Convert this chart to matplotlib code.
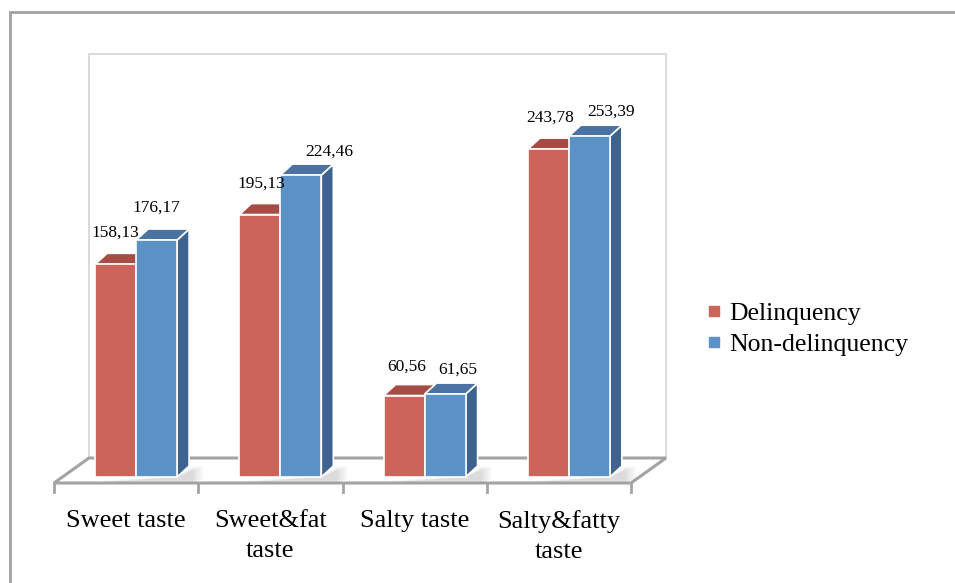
import numpy as np
import matplotlib.pyplot as plt
from matplotlib.patches import Polygon, Rectangle
from matplotlib.lines import Line2D

plt.rcParams['font.family'] = ['Liberation Serif', 'DejaVu Serif']

#%% data
categories = ['Sweet taste', 'Sweet&fat\ntaste', 'Salty taste', 'Salty&fatty\ntaste']
series_names = ['Delinquency', 'Non-delinquency']
delinquency = [158.13, 195.13, 60.56, 243.78]
non_delinquency = [176.17, 224.46, 61.65, 253.39]

# per-label nudges (pixels) from the top of the column front
lab_dx = [[0, 1, 3, 2], [0, 28, 13, 22]]
lab_dy = [[32, 31, 29, 31], [32, 23, 24, 25]]

# front, top, side
red = ('#CB6459', '#A64C45', '#9C4640')
blue = ('#5B93C9', '#4A72A2', '#3F6391')

#%% figure
W, H, DPI = 955, 583, 100
fig = plt.figure(figsize=(W / DPI, H / DPI), dpi=DPI)

# axes = front plane of the columns (pixel box)
ax_l, ax_r, ax_b, ax_t = 64, 641, 477, 73.5
ax = fig.add_axes([ax_l / W, 1 - ax_b / H, (ax_r - ax_l) / W, (ax_b - ax_t) / H])
ymax = 300.0
ax.set_xlim(-0.5, 3.5)
ax.set_ylim(0, ymax)
ax.axis('off')

px_x = (ax_r - ax_l) / 4.0
px_y = (ax_b - ax_t) / ymax

def off(dx, dy):
    return dx / px_x, dy / px_y

fdx, fdy = off(-10, -6)    # floor front edge
bdx, bdy = off(25, 19)     # floor back edge / wall
ddx, ddy = off(12, 11)     # column depth

# outer chart frame
fig.patches.append(Rectangle((10 / W, -0.2), 1.2, 1 - 12 / H + 0.2, transform=fig.transFigure,
                             fill=False, edgecolor='#A0A0A0', lw=2))

# back wall
x0, x1 = -0.5, 3.5
ax.plot([x0 + bdx, x0 + bdx, x1 + bdx, x1 + bdx], [bdy, ymax + bdy, ymax + bdy, bdy],
        color='#D4D4D4', lw=1.2, clip_on=False, zorder=1)

# floor
floor = [(x0 + fdx, fdy), (x1 + fdx, fdy), (x1 + bdx, bdy), (x0 + bdx, bdy)]
ax.add_patch(Polygon(floor, closed=True, facecolor='white', edgecolor='#A3A3A3',
                     lw=2.2, clip_on=False, zorder=2))
# tick marks under the floor
sx, sy = off(0, -9)
for t in np.arange(-0.5, 4.0, 1.0):
    ax.plot([t + fdx, t + fdx], [fdy, fdy + sy], color='#A3A3A3', lw=2, clip_on=False, zorder=2)

w = 0.284
x = np.arange(len(categories))

# soft shadows on the floor
for k, a in enumerate([0.05, 0.05, 0.06, 0.07]):
    gx, gy = off(14 - 3 * k, 4 + k)
    for xi in x:
        sh = [(xi - w + off(4, 0)[0], -gy * 0.8), (xi + w + ddx + gx, -gy * 0.8),
              (xi + w + ddx + gx, ddy), (xi + w, 0)]
        ax.add_patch(Polygon(sh, closed=True, facecolor='#606060', edgecolor='none',
                             alpha=a, clip_on=False, zorder=3))

# columns
for xi in x:
    for s, (vals, col) in enumerate([(delinquency, red), (non_delinquency, blue)]):
        v = vals[xi]
        left = xi - w + s * w
        right = left + w
        side = [(right, 0), (right + ddx, ddy), (right + ddx, v + ddy), (right, v)]
        top = [(left, v), (right, v), (right + ddx, v + ddy), (left + ddx, v + ddy)]
        ax.add_patch(Polygon(side, closed=True, facecolor=col[2], edgecolor='white',
                             lw=1.2, clip_on=False, zorder=4))
        ax.add_patch(Polygon(top, closed=True, facecolor=col[1], edgecolor='white',
                             lw=1.2, clip_on=False, zorder=4))
        ax.bar(left, v, width=w, align='edge', color=col[0], edgecolor='white',
               lw=1.2, zorder=4, clip_on=False)

# value labels
for s, vals in enumerate([delinquency, non_delinquency]):
    for xi, v in enumerate(vals):
        cx = xi - w / 2 + s * w
        ax.annotate(f'{v:.2f}'.replace('.', ','), (cx, v),
                    xytext=(lab_dx[s][xi], lab_dy[s][xi]), textcoords='offset pixels',
                    ha='center', va='center', fontsize=12.5, color='black', zorder=6)

# category labels under the floor
for xi, name in enumerate(categories):
    ax.annotate(name, (xi + fdx, fdy), xytext=(0, -27), textcoords='offset pixels',
                ha='center', va='top', fontsize=19, linespacing=1.45,
                annotation_clip=False)

# legend
handles = [Line2D([], [], ls='', marker='s', markersize=7, color=red[0]),
           Line2D([], [], ls='', marker='s', markersize=7, color=blue[0])]
fig.legend(handles, series_names, loc='center left', bbox_to_anchor=(696 / W, 1 - 329 / H),
           frameon=False, fontsize=18.5, handlelength=0.6, handletextpad=0.3,
           labelspacing=0.3, borderaxespad=0)

fig.savefig('out.png', dpi=DPI)
